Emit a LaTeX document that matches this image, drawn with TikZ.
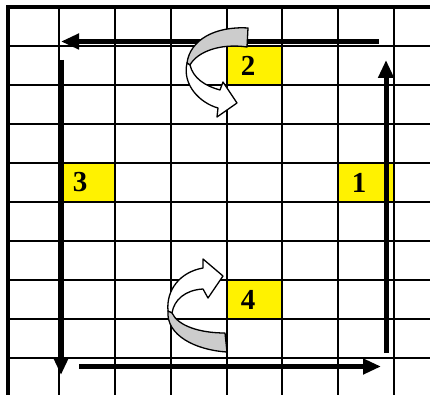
\documentclass[tikz,border=0pt]{standalone}
\usepackage{fontspec}
\setmainfont{Liberation Serif}
\usetikzlibrary{arrows.meta}
\begin{document}
\begin{tikzpicture}[x=1pt,y=-1pt,
  gridline/.style={line width=2.1pt},
  border/.style={line width=3.8pt, line join=miter},
  cell/.style={fill=yellow},
  num/.style={font=\fontsize{29}{29}\selectfont\bfseries, inner sep=0pt, anchor=center},
  flow/.style={line width=5pt, -{Triangle[length=18pt,width=15pt]}},
  ribbon/.style={draw=black, line width=1.3pt, line join=round},
  back/.style={ribbon, fill=gray!40},
  front/.style={ribbon, fill=white}]
\useasboundingbox (0,0) rectangle (430,395);
\fill[white] (0,0) rectangle (430,395);
% yellow cells
\fill[cell] (227,46) rectangle (282,85);
\fill[cell] (59,163) rectangle (115,202);
\fill[cell] (338,163) rectangle (394,202);
\fill[cell] (227,280) rectangle (282,319);
% grid
\foreach \gx in {59,115,171,227,282,338,394}
  \draw[gridline] (\gx,7) -- (\gx,395);
\foreach \gy in {46,85,124,163,202,241,280,319,358}
  \draw[gridline] (8,\gy) -- (430,\gy);
\draw[border] (8,395) -- (8,7) -- (430,7);
% numbers
\node[num] (n2) at (248,65.5) {2};
\node[num] (n3) at (80,182.5) {3};
\node[num] (n1) at (359,182.5) {1};
\node[num] (n4) at (248,299.5) {4};
% straight arrows
\coordinate (rA) at (386,353);
\coordinate (rB) at (386,60);
\coordinate (tA) at (379,41.5);
\coordinate (tB) at (61,41.5);
\coordinate (lA) at (61,60);
\coordinate (lB) at (61,375);
\coordinate (bA) at (79,366.5);
\coordinate (bB) at (381,366.5);
\draw[flow] (rA) -- (rB);
\draw[flow] (tA) -- (tB);
\draw[flow] (lA) -- (lB);
\draw[flow] (bA) -- (bB);
% top curved arrow
\filldraw[back] (248,28) .. controls (215,26) and (190,40) .. (187,63) -- (190,65) .. controls (197,52) and (220,43) .. (247,47) -- cycle;
\filldraw[front] (187,63) .. controls (182,85) and (200,103) .. (218,108) -- (217,117) -- (237,103) -- (223,82) -- (220,90) .. controls (205,86) and (193,78) .. (190,65) -- cycle;
% bottom curved arrow
\filldraw[front] (168,311) .. controls (166,290) and (180,272) .. (203,268) -- (203,259) -- (223,276) -- (208,298) -- (203,289) .. controls (185,290) and (174,300) .. (172,313) -- cycle;
\filldraw[back] (168,311) .. controls (166,335) and (195,350) .. (227,352) -- (225,333) .. controls (200,333) and (178,326) .. (172,313) -- cycle;
\end{tikzpicture}
\end{document}
